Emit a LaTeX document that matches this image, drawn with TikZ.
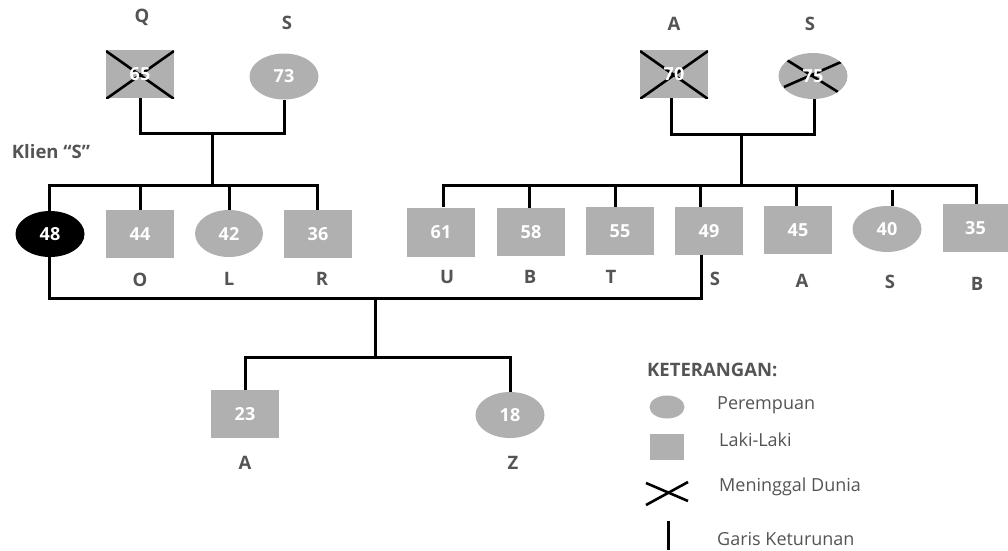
\documentclass[tikz,border=0pt]{standalone}
\usepackage{fontspec}
\setmainfont{Open Sans}
\usetikzlibrary{shapes.geometric,calc}
\definecolor{gfill}{RGB}{176,176,176}
\definecolor{ltext}{RGB}{84,84,84}
\tikzset{
  person/.style={fill=gfill, inner sep=0pt, text=white,
    font=\bfseries\fontsize{18}{18}\selectfont},
  male/.style={person, rectangle, minimum width=68pt, minimum height=48pt},
  female/.style={person, ellipse, minimum width=69pt, minimum height=46pt},
  % deceased: a cross under the printed age
  deceased/.style={path picture={
    \draw[line width=2.6pt]
      ([shift={(0,1)}]path picture bounding box.north west) -- ([shift={(0,1)}]path picture bounding box.south east)
      ([shift={(0,1)}]path picture bounding box.south west) -- ([shift={(0,1)}]path picture bounding box.north east);}},
  deceasedf/.style={path picture={
    \draw[line width=2.6pt]
      ($(path picture bounding box.center)+(-29,11)$) -- ($(path picture bounding box.center)+(28,-14)$)
      ($(path picture bounding box.center)+(-31,-19)$) -- ($(path picture bounding box.center)+(25,16)$);}},
  lbl/.style={text=ltext, inner sep=0pt, font=\bfseries\fontsize{18.5}{18.5}\selectfont},
  legtext/.style={text=ltext, inner sep=0pt, anchor=west, font=\fontsize{18}{18}\selectfont},
  kin/.style={draw=black, line width=3pt},
  deadx/.style={draw=black, line width=2.6pt}
}
\begin{document}
\begin{tikzpicture}[x=1pt,y=-1pt]
\useasboundingbox (0,0) rectangle (1008,550);

% grandparents, left side
\node[male, deceased] (q65) at (140,74) {65};
\node[female] (s73) at (284,76.5) {73};
\node[lbl] (lq) at (142,17) {Q};
\node[lbl] (ls1) at (287,23) {S};

% grandparents, right side
\node[male, deceased] (a70) at (674,74) {70};
\node[female, deceasedf] (s75) at (813,76) {75};
\node[lbl] (la) at (674,24) {A};
\node[lbl] (ls2) at (810,24) {S};

% couple lines of the grandparents
\coordinate (m1) at (212,133);
\coordinate (m2) at (741,134);
\draw[kin] (q65.south) |- (m1) -| (s73.south);
\draw[kin] ([xshift=-3pt]a70.south) |- (m2) -| ([xshift=1pt]s75.south);

% client label
\node[lbl] (klien) at (51,152) {Klien “S”};

% children, left family
\node[female, fill=black] (c48) at (50,234) {48};
\node[male]   (c44) at (140,234) {44};
\node[female, minimum width=68pt, minimum height=47pt] (c42) at (229,233.5) {42};
\node[male]   (c36) at (318,234) {36};
\node[lbl] (lo) at (140,280) {O};
\node[lbl] (ll) at (229,279) {L};
\node[lbl] (lr) at (322,279) {R};

\coordinate (b1) at (212,185);
\draw[kin] (m1) -- (b1);
\draw[kin] ([xshift=-1pt]c48.north) |- (b1) -| ([xshift=-1pt]c36.north);
\draw[kin] (c44.north) -- (c44.north |- b1);
\draw[kin] (c42.north) -- (c42.north |- b1);

% children, right family
\node[male, minimum height=49pt] (c61) at (441,232) {61};
\node[male] (c58) at (531,232) {58};
\node[male] (c55) at (620,231) {55};
\node[male] (c49) at (709,231) {49};
\node[male] (c45) at (798,230) {45};
\node[female] (c40) at (887,229) {40};
\node[male, minimum width=65pt] (c35) at (975.5,228) {35};
\node[lbl] (lu) at (447,277) {U};
\node[lbl] (lb1) at (530,277) {B};
\node[lbl] (lt) at (611,277) {T};
\node[lbl] (ls3) at (715,279) {S};
\node[lbl] (la2) at (802,281) {A};
\node[lbl] (ls4) at (890,282) {S};
\node[lbl] (lb2) at (977,284) {B};

\coordinate (b2) at (741,185);
\draw[kin] (m2) -- (b2);
\draw[kin] ([xshift=2pt]c61.north) |- (b2) -| ([xshift=0.5pt]c35.north);
\draw[kin] ([xshift=-2pt]c58.north) -- ([xshift=-2pt]c58.north |- b2);
\draw[kin] ([xshift=-5pt]c55.north) -- ([xshift=-5pt]c55.north |- b2);
\draw[kin] ([xshift=-9pt]c49.north) -- ([xshift=-9pt]c49.north |- b2);
\draw[kin] ([xshift=-2pt]c45.north) -- ([xshift=-2pt]c45.north |- b2);
\draw[kin] ([xshift=5pt]c40.north) -- ([xshift=5pt,yshift=16pt]c40.north);

% marriage of the client and her children
\coordinate (m3) at (375,298);
\coordinate (b3) at (375,357);
\draw[kin] ([xshift=-1pt]c48.south) |- (m3) -| ([xshift=-8pt]c49.south);
\draw[kin] (m3) -- (b3);

\node[male]   (g23) at (245,414) {23};
\node[female] (g18) at (510,415) {18};
\node[lbl] (la3) at (245,463) {A};
\node[lbl] (lz) at (513,463) {Z};
\draw[kin] (g23.north) |- (b3) -| (g18.north);

% legend
\node[lbl, anchor=west] (ket) at (647,370) {KETERANGAN:};
\node[ellipse, fill=gfill, inner sep=0pt, minimum width=35pt, minimum height=23pt] (kf) at (667,407) {};
\node[legtext] (tf) at (717,405) {Perempuan};
\node[rectangle, fill=gfill, inner sep=0pt, minimum width=34pt, minimum height=26pt] (km) at (667,447) {};
\node[legtext] (tm) at (719,440) {Laki-Laki};
\coordinate (kx1) at (646,505);
\coordinate (kx2) at (688,482);
\coordinate (kx3) at (646,483);
\coordinate (kx4) at (688,501);
\draw[deadx] (kx1) -- (kx2);
\draw[deadx] (kx3) -- (kx4);
\node[legtext] (td) at (719,487) {Meninggal Dunia};
\coordinate (kl1) at (668,521);
\coordinate (kl2) at (668,550);
\draw[kin] (kl1) -- (kl2);
\node[legtext] (tg) at (717,539) {Garis Keturunan};
\end{tikzpicture}
\end{document}
